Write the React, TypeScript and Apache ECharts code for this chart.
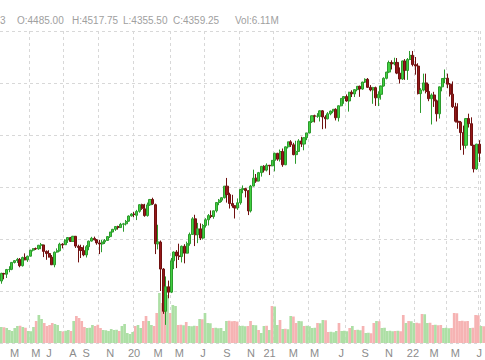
import { useEffect, useRef } from "react";
import * as echarts from "echarts";

const weeks = [
  "2019-01-18","2019-01-25","2019-02-01","2019-02-08","2019-02-15","2019-02-22","2019-03-01","2019-03-08","2019-03-15","2019-03-22",
  "2019-03-29","2019-04-05","2019-04-12","2019-04-18","2019-04-26","2019-05-03","2019-05-10","2019-05-17","2019-05-24","2019-05-31",
  "2019-06-07","2019-06-14","2019-06-21","2019-06-28","2019-07-05","2019-07-12","2019-07-19","2019-07-26","2019-08-02","2019-08-09",
  "2019-08-16","2019-08-23","2019-08-30","2019-09-06","2019-09-13","2019-09-20","2019-09-27","2019-10-04","2019-10-11","2019-10-18",
  "2019-10-25","2019-11-01","2019-11-08","2019-11-15","2019-11-22","2019-11-29","2019-12-06","2019-12-13","2019-12-20","2019-12-27",
  "2020-01-03","2020-01-10","2020-01-17","2020-01-24","2020-01-31","2020-02-07","2020-02-14","2020-02-21","2020-02-28","2020-03-06",
  "2020-03-13","2020-03-20","2020-03-27","2020-04-03","2020-04-09","2020-04-17","2020-04-24","2020-05-01","2020-05-08","2020-05-15",
  "2020-05-22","2020-05-29","2020-06-05","2020-06-12","2020-06-19","2020-06-26","2020-07-02","2020-07-10","2020-07-17","2020-07-24",
  "2020-07-31","2020-08-07","2020-08-14","2020-08-21","2020-08-28","2020-09-04","2020-09-11","2020-09-18","2020-09-25","2020-10-02",
  "2020-10-09","2020-10-16","2020-10-23","2020-10-30","2020-11-06","2020-11-13","2020-11-20","2020-11-27","2020-12-04","2020-12-11",
  "2020-12-18","2020-12-24","2020-12-31","2021-01-08","2021-01-15","2021-01-22","2021-01-29","2021-02-05","2021-02-12","2021-02-19",
  "2021-02-26","2021-03-05","2021-03-12","2021-03-19","2021-03-26","2021-04-01","2021-04-09","2021-04-16","2021-04-23","2021-04-30",
  "2021-05-07","2021-05-14","2021-05-21","2021-05-28","2021-06-04","2021-06-11","2021-06-18","2021-06-25","2021-07-02","2021-07-09",
  "2021-07-16","2021-07-23","2021-07-30","2021-08-06","2021-08-13","2021-08-20","2021-08-27","2021-09-03","2021-09-10","2021-09-17",
  "2021-09-24","2021-10-01","2021-10-08","2021-10-15","2021-10-22","2021-10-29","2021-11-05","2021-11-12","2021-11-19","2021-11-26",
  "2021-12-03","2021-12-10","2021-12-17","2021-12-23","2021-12-31","2022-01-07","2022-01-14","2022-01-21","2022-01-28","2022-02-04",
  "2022-02-11","2022-02-18","2022-02-25","2022-03-04","2022-03-11","2022-03-18","2022-03-25","2022-04-01","2022-04-08","2022-04-14",
  "2022-04-22","2022-04-29","2022-05-06","2022-05-13","2022-05-20","2022-05-27","2022-06-03","2022-06-10","2022-06-17","2022-06-24",
  "2022-07-01",
];

const opens = [
  2596,2668,2662,2706,2708,2774,2793,2804,2743,2823,2800,2835,2893,2908,2905,2940,2943,2881,2860,2826,
  2752,2874,2887,2950,2945,2990,3014,2977,3026,2930,2918,2889,2847,2926,2980,3006,2992,2962,2952,2971,
  2986,3023,3067,3093,3120,3110,3141,3146,3171,3222,
  3240,3228,3266,3330,3290,3225,3328,3380,3330,2954,2970,2711,2305,2541,2489,2790,2875,2837,2831,2930,
  2864,2955,3044,3194,3041,3098,3009,3130,3185,3225,3216,3271,3351,3373,3397,3508,3427,3341,3319,3298,
  3348,3477,3484,3465,3270,3509,3585,3557,3638,3699,3663,3709,3703,
  3756,3824,3768,3841,3714,3886,3934,3906,3811,3842,3943,3913,3974,4020,4128,4185,4180,4181,4232,4173,
  4156,4204,4230,4247,4166,4281,4352,4370,4327,4411,4395,4436,4468,4442,4509,4535,4458,4433,4455,4357,
  4391,4471,4545,4605,4697,4683,4698,4595,4538,4712,4620,4726,
  4766,4677,4663,4398,4432,4501,4419,4349,4385,4329,4204,4463,4543,4546,4488,4393,4272,4132,4123,4023,
  3901,4158,4109,3901,3675,3912,
];

const highs = [
  2675,2675,2712,2738,2778,2796,2818,2817,2830,2862,2840,2896,2912,2918,2943,2962,2944,2890,2892,2846,
  2880,2910,2964,2960,2998,3016,3020,3030,3029,2945,2945,2939,2941,2985,3021,3023,3000,2992,2993,3000,
  3027,3068,3097,3122,3128,3155,3155,3183,3227,3248,
  3260,3280,3333,3339,3338,3350,3385,3397,3340,3137,2985,2720,2640,2600,2818,2880,2893,2955,2937,2950,
  2975,3062,3210,3233,3155,3150,3145,3200,3240,3275,3274,3352,3385,3400,3510,3587,3445,3425,3325,3390,
  3480,3515,3493,3465,3520,3667,3625,3645,3700,3710,3727,3710,3760,
  3830,3828,3860,3870,3890,3935,3950,3925,3945,3960,3983,3978,4020,4130,4187,4195,4210,4238,4240,4190,
  4220,4235,4250,4257,4285,4355,4372,4390,4415,4430,4440,4470,4475,4512,4545,4548,4480,4463,4465,4420,
  4475,4555,4607,4715,4718,4743,4740,4650,4715,4730,4740,4808,
  4808,4750,4690,4450,4590,4590,4490,4400,4415,4340,4465,4545,4630,4590,4500,4515,4310,4305,4135,4090,
  4160,4205,4170,3905,3915,3950,
];

const lows = [
  2570,2612,2625,2680,2700,2765,2770,2728,2735,2795,2780,2832,2880,2895,2896,2902,2826,2800,2822,2750,
  2728,2868,2880,2910,2944,2962,2975,2976,2914,2775,2817,2834,2822,2892,2975,2988,2945,2855,2873,2952,
  2982,3010,3066,3078,3090,3110,3070,3130,3166,3215,
  3210,3182,3253,3280,3214,3215,3318,3328,2855,2900,2500,2280,2174,2430,2480,2710,2720,2798,2775,2766,
  2860,2935,3040,2932,2960,2990,2995,3110,3130,3200,3195,3255,3325,3355,3390,3350,3293,3300,3197,3280,
  3330,3440,3400,3230,3255,3505,3540,3555,3600,3640,3650,3615,3700,
  3650,3752,3745,3694,3710,3870,3885,3805,3723,3840,3885,3853,3950,4015,4115,4120,4165,4130,4056,4062,
  4150,4190,4210,4140,4130,4275,4300,4320,4225,4365,4365,4420,4367,4435,4500,4453,4420,4300,4280,4278,
  4340,4465,4535,4595,4630,4670,4585,4495,4530,4530,4530,4720,
  4660,4580,4390,4212,4420,4400,4325,4101,4270,4130,4158,4420,4500,4450,4370,4260,4120,4060,3855,3810,
  3870,4072,3895,3640,3665,3740,
];

const closes = [
  2670,2664,2706,2707,2775,2792,2804,2743,2822,2800,2834,2892,2907,2905,2940,2945,2881,2860,2826,2752,
  2873,2887,2950,2942,2990,3014,2977,3026,2932,2919,2889,2847,2926,2979,3007,2992,2962,2952,2970,2986,
  3023,3067,3093,3120,3110,3141,3146,3169,3221,3240,
  3235,3265,3330,3295,3225,3328,3380,3338,2954,2972,2711,2305,2541,2489,2790,2875,2837,2831,2930,2864,
  2955,3044,3194,3041,3098,3009,3130,3185,3225,3216,3271,3351,3373,3397,3508,3427,3341,3319,3298,3348,
  3477,3484,3465,3270,3509,3585,3557,3638,3699,3663,3709,3703,3756,
  3824,3768,3841,3714,3886,3934,3906,3811,3842,3943,3913,3974,4020,4128,4185,4180,4181,4232,4173,4156,
  4204,4230,4247,4166,4281,4352,4370,4327,4411,4395,4436,4468,4442,4509,4535,4458,4433,4455,4357,4391,
  4471,4545,4605,4697,4683,4698,4595,4538,4712,4620,4726,4766,
  4677,4663,4398,4432,4501,4419,4349,4385,4329,4204,4463,4543,4546,4488,4393,4272,4132,4123,4023,3901,
  4158,4109,3901,3675,3912,3825,
];

const volumes = [
  6.4,6.3,6.0,5.2,4.8,6.0,6.8,6.9,6.4,6.1,4.8,4.7,6.4,8.8,11.2,9.6,8.0,6.8,7.2,8.0,
  7.6,7.2,4.8,4.6,4.9,5.2,4.8,8.8,10.8,10.0,8.8,6.4,6.0,6.1,7.2,6.8,7.3,6.0,5.2,5.1,
  4.8,5.6,5.2,5.3,4.8,6.8,7.6,4.0,3.6,4.4,
  6.8,7.2,6.0,8.8,10.8,8.8,7.2,6.8,12.0,20.0,16.0,15.2,19.2,12.0,15.2,14.8,7.2,7.3,7.1,8.4,
  6.8,6.7,6.9,6.8,9.6,9.5,12.0,8.0,7.9,6.0,6.1,5.9,6.0,4.8,8.8,8.9,8.7,8.8,8.6,6.8,
  6.9,6.7,6.8,8.8,7.2,7.1,5.2,4.0,6.8,6.9,5.2,14.8,14.6,
  7.2,9.2,5.6,5.7,5.5,10.8,10.6,8.0,8.8,8.7,6.8,6.9,6.7,6.0,6.1,8.0,7.9,9.2,9.1,4.4,
  4.5,4.3,4.8,8.0,4.8,4.9,4.7,6.0,6.8,5.2,5.3,5.1,6.8,4.0,4.1,3.9,8.0,8.8,8.7,6.0,
  6.1,4.8,4.9,4.7,4.8,4.9,4.7,11.2,8.0,8.8,8.7,8.0,
  8.1,7.9,11.6,11.5,8.0,8.1,7.2,7.3,7.1,7.2,6.0,6.1,5.9,6.0,12.0,11.9,8.8,8.9,8.7,8.8,
  6.0,6.1,11.2,11.1,6.8,6.7,
];

const tickDates = [
  "2019-02-22","2019-04-18","2019-05-24","2019-07-26","2019-08-30","2019-11-01","2020-01-03",
  "2020-03-06","2020-05-01","2020-07-02","2020-09-04","2020-11-06","2020-12-24",
  "2021-02-26","2021-04-23","2021-07-02","2021-09-03","2021-11-05","2022-01-07",
  "2022-03-04","2022-04-29","2022-07-01",
];
const tickTexts = [
  "M","M","J","A","S","N","20",
  "M","M","J","S","N","21",
  "M","M","J","S","N","22",
  "M","M","J",
];
const gridDates = [
  "2019-04-05","2019-07-05","2019-10-04","2020-01-03","2020-04-09","2020-07-10","2020-10-09",
  "2021-01-08","2021-04-09","2021-07-16","2021-10-15","2022-01-14","2022-04-08","2022-07-01",
];

const headerItems = ["3", "O:4485.00", "H:4517.75", "L:4355.50", "C:4359.25", "Vol:6.11M"];

export default function App() {
  const ref = useRef<HTMLDivElement>(null);
  useEffect(() => {
    const chart = echarts.init(ref.current!, null, { renderer: "svg" });
    const candles = weeks.map((_, i) => [opens[i], closes[i], lows[i], highs[i]]);
    const tickMap = new Map(tickDates.map((d, i) => [d, tickTexts[i]]));
    const gridSet = new Set(gridDates);
    const headerX = [0, 17, 72, 123, 173, 235];
    const font = "'Liberation Sans', Arial, sans-serif";
    chart.setOption({
      animation: false,
      backgroundColor: "#ffffff",
      graphic: headerItems.map((t, i) => ({
        type: "text",
        left: headerX[i],
        top: 15,
        style: { text: t, fill: "#a0a0a0", font: `10px ${font}` },
      })),
      grid: [
        { left: 0, right: 0, top: 31, bottom: 17 },
        { left: 0, right: 0, top: 290, bottom: 17 },
      ],
      xAxis: [
        {
          type: "category",
          data: weeks,
          gridIndex: 0,
          boundaryGap: true,
          axisLine: { show: false },
          axisTick: { show: false },
          axisLabel: {
            interval: (_i: number, v: string) => tickMap.has(v),
            formatter: (v: string) => tickMap.get(v) ?? "",
            color: "#8c8c8c",
            fontSize: 11,
            fontFamily: font,
            margin: 4,
          },
          splitLine: {
            show: true,
            interval: (_i: number, v: string) => gridSet.has(v),
            lineStyle: { color: "#d8d8d8", type: [3, 3], width: 1 },
          },
        },
        {
          type: "category",
          data: weeks,
          gridIndex: 1,
          boundaryGap: true,
          axisLine: { show: false },
          axisTick: { show: false },
          axisLabel: { show: false },
          splitLine: { show: false },
        },
      ],
      yAxis: [
        {
          type: "value",
          gridIndex: 0,
          min: 2000,
          max: 5000,
          interval: 500,
          axisLabel: { show: false },
          axisLine: { show: false },
          axisTick: { show: false },
          splitLine: { show: true, lineStyle: { color: "#d8d8d8", type: [3, 3], width: 1 } },
        },
        {
          type: "value",
          gridIndex: 1,
          min: 0,
          max: 21.2,
          axisLabel: { show: false },
          axisLine: { show: false },
          axisTick: { show: false },
          splitLine: { show: false },
        },
      ],
      series: [
        {
          type: "bar",
          xAxisIndex: 1,
          yAxisIndex: 1,
          data: volumes,
          barWidth: "100%",
          z: 1,
          itemStyle: {
            color: (p: any) =>
              closes[p.dataIndex] >= opens[p.dataIndex] ? "#addfa5" : "#f6b3b3",
          },
        },
        {
          type: "candlestick",
          xAxisIndex: 0,
          yAxisIndex: 0,
          data: candles,
          barWidth: 2.6,
          z: 3,
          itemStyle: {
            color: "#41d041",
            color0: "#951818",
            borderColor: "#2c9a2c",
            borderColor0: "#701010",
            borderWidth: 1,
          },
        },
      ],
    });
    return () => chart.dispose();
  }, []);
  return (
    <div
      ref={ref}
      style={{ position: "fixed", left: 0, top: 0, width: 485, height: 360, background: "#fff" }}
    />
  );
}
